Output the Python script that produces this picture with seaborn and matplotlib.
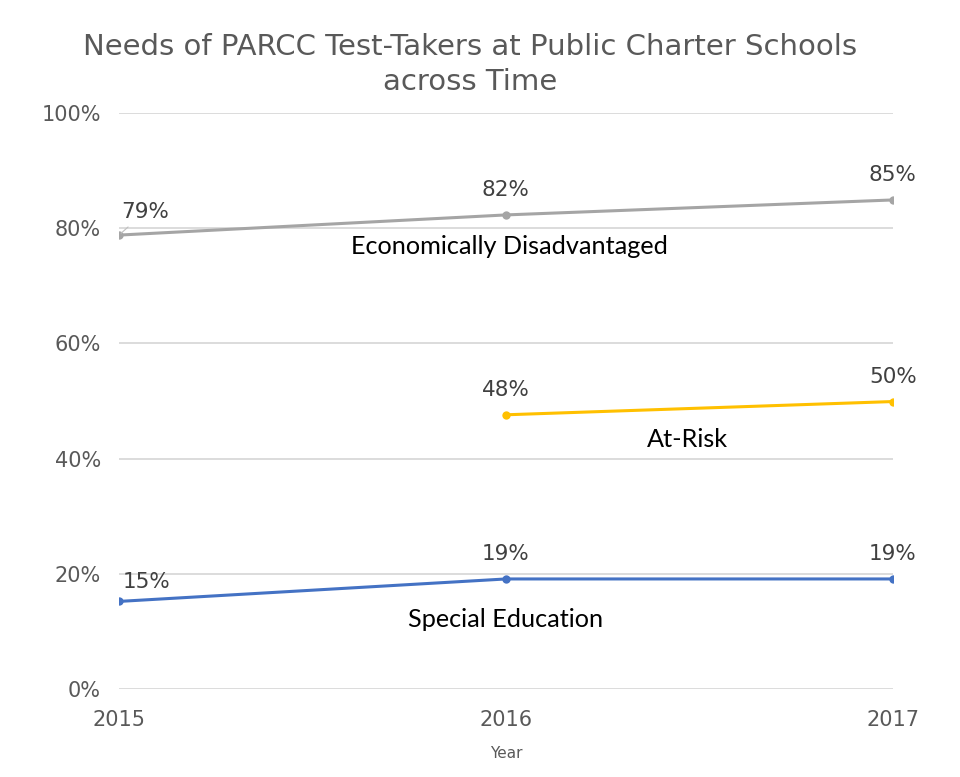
import pandas as pd
import numpy as np
import matplotlib.pyplot as plt
import seaborn as sns

# data
years = [2015, 2016, 2017]
econ_dis = [78.8, 82.3, 84.9]
at_risk = [np.nan, 47.6, 49.9]
special_ed = [15.2, 19.1, 19.1]
econ_lbl = ['79%', '82%', '85%']
risk_lbl = ['', '48%', '50%']
sped_lbl = ['15%', '19%', '19%']
series_names = ['Economically Disadvantaged', 'At-Risk', 'Special Education']

dat = pd.DataFrame({'Year': years * 3,
                    'Pct': econ_dis + at_risk + special_ed,
                    'Group': [n for n in series_names for _ in years]})
dat = dat.dropna()

sns.set_style('white')
plt.rcParams['font.family'] = ['DejaVu Sans']

fig = plt.figure(figsize=(9.6, 7.77), dpi=100)
ax = fig.add_axes([0.124, 0.1133, 0.806, 0.7413])

pal = {'Economically Disadvantaged': '#A5A5A5', 'At-Risk': '#FFC000',
       'Special Education': '#4472C4'}
sns.lineplot(data=dat, x='Year', y='Pct', hue='Group', palette=pal, marker='o',
             markersize=6, markeredgewidth=0, linewidth=2.2, legend=False, ax=ax)

ax.set_xlim(2015, 2017)
ax.set_ylim(0, 100)
ax.set_yticks(range(0, 101, 20))
ax.set_yticklabels(['{}%'.format(v) for v in range(0, 101, 20)])
ax.set_xticks(years)
ax.yaxis.grid(True, color='#D9D9D9', linewidth=1.3)
ax.set_axisbelow(True)
for s in ax.spines.values():
    s.set_visible(False)
ax.tick_params(axis='both', length=0, labelsize=15, colors='#595959')
ax.tick_params(axis='y', pad=13)
ax.tick_params(axis='x', pad=15)
ax.set_xlabel('Year', fontsize=11, color='#595959', labelpad=12)
ax.set_ylabel('')

# data labels
lbl_col = '#404040'
ax.annotate(econ_lbl[0], xy=(years[0], econ_dis[0]), xytext=(years[0] + 0.005, econ_dis[0] + 2.3),
            fontsize=15.5, color=lbl_col, ha='left', va='bottom',
            arrowprops=dict(arrowstyle='-', color='#BFBFBF', lw=0.8))
for i in [1, 2]:
    ax.text(years[i], econ_dis[i] + 2.6, econ_lbl[i], fontsize=15.5, color=lbl_col,
            ha='center', va='bottom')
    ax.text(years[i], at_risk[i] + 2.6, risk_lbl[i], fontsize=15.5, color=lbl_col,
            ha='center', va='bottom')
ax.text(years[0] + 0.01, special_ed[0] + 1.6, sped_lbl[0], fontsize=15.5, color=lbl_col,
        ha='left', va='bottom')
for i in [1, 2]:
    ax.text(years[i], special_ed[i] + 2.6, sped_lbl[i], fontsize=15.5, color=lbl_col,
            ha='center', va='bottom')

# series names
ax.text(2016.01, 76.8, series_names[0], fontsize=18.2, family='Lato', color='black',
        ha='center', va='center')
ax.text(2016.47, 43.3, series_names[1], fontsize=18.2, family='Lato', color='black',
        ha='center', va='center')
ax.text(2016.0, 12.0, series_names[2], fontsize=18.2, family='Lato', color='black',
        ha='center', va='center')

fig.text(0.49, 0.917, 'Needs of PARCC Test-Takers at Public Charter Schools\nacross Time',
         fontsize=21, color='#595959', ha='center', va='center', linespacing=1.3)

fig.savefig('out.png', dpi=100)
